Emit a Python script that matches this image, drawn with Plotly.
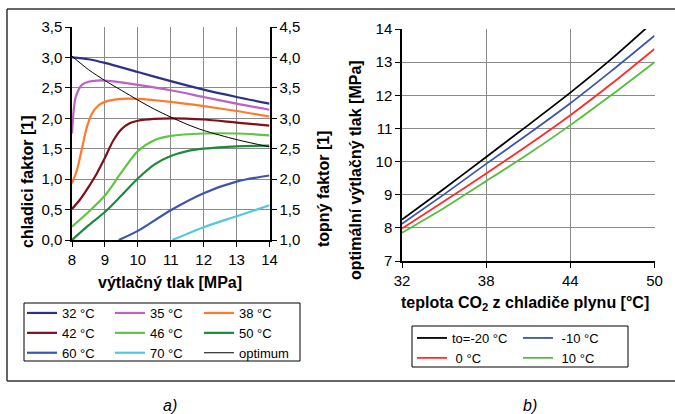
import plotly.graph_objects as go

# ---------------- data: panel a) ----------------
x_32 = [8.0, 8.5, 9.0, 10.0, 11.0, 12.0, 13.0, 14.0]
y_32 = [3.00, 2.97, 2.91, 2.76, 2.61, 2.47, 2.35, 2.24]

x_35 = [8.0, 8.05, 8.1, 8.2, 8.3, 8.5, 8.75, 9.0, 9.5, 10.0, 11.0, 12.0, 13.0, 14.0]
y_35 = [1.75, 2.12, 2.32, 2.47, 2.55, 2.60, 2.62, 2.62, 2.59, 2.55, 2.46, 2.35, 2.24, 2.14]

x_38 = [8.0, 8.15, 8.3, 8.45, 8.6, 8.8, 9.0, 9.5, 10.0, 11.0, 12.0, 13.0, 14.0]
y_38 = [0.93, 1.15, 1.50, 1.85, 2.07, 2.21, 2.27, 2.32, 2.32, 2.27, 2.20, 2.12, 2.03]

x_42 = [8.0, 8.25, 8.5, 8.75, 9.0, 9.25, 9.5, 9.75, 10.0, 10.5, 11.0, 12.0, 13.0, 14.0]
y_42 = [0.51, 0.67, 0.87, 1.09, 1.35, 1.63, 1.82, 1.92, 1.96, 1.99, 2.00, 1.98, 1.93, 1.88]

x_46 = [8.0, 8.5, 9.0, 9.5, 10.0, 10.5, 11.0, 12.0, 13.0, 14.0]
y_46 = [0.22, 0.46, 0.73, 1.11, 1.46, 1.64, 1.71, 1.75, 1.75, 1.72]

x_50 = [8.0, 8.5, 9.0, 9.5, 10.0, 10.5, 11.0, 11.5, 12.0, 13.0, 14.0]
y_50 = [0.00, 0.24, 0.46, 0.73, 1.01, 1.24, 1.38, 1.46, 1.50, 1.54, 1.55]

x_60 = [9.42, 10.0, 11.0, 12.0, 13.0, 14.0]
y_60 = [0.00, 0.15, 0.49, 0.77, 0.96, 1.06]

x_70 = [11.05, 12.0, 13.0, 14.0]
y_70 = [0.00, 0.21, 0.39, 0.57]

x_opt = [8.0, 8.5, 9.0, 9.5, 10.0, 10.5, 11.0, 11.5, 12.0, 13.0, 14.0]
y_opt = [3.02, 2.80, 2.62, 2.46, 2.30, 2.15, 2.02, 1.90, 1.80, 1.65, 1.53]

# heating factor = cooling factor + 1 (right axis of panel a)
y_opt_heat = [v + 1 for v in y_opt]

# ---------------- data: panel b) ----------------
t_gas = [32, 35, 38, 41, 44, 47, 50]
p_m20 = [8.25, 9.18, 10.14, 11.10, 12.08, 13.12, 14.25]
p_m10 = [8.12, 9.01, 9.93, 10.83, 11.76, 12.76, 13.80]
p_0 = [7.98, 8.80, 9.64, 10.50, 11.40, 12.37, 13.40]
p_10 = [7.85, 8.60, 9.41, 10.23, 11.10, 12.03, 13.00]

FONT = "Liberation Sans, Arial, sans-serif"
W, H = 675, 414


def px(x):
    return x / W


def py(y):
    return 1 - y / H


fig = go.Figure()

series_a = [
    ("32 °C", x_32, y_32, "#2E3188", 2.2, "legend"),
    ("42 °C", x_42, y_42, "#7F1018", 2.2, "legend"),
    ("60 °C", x_60, y_60, "#3C55AE", 2.2, "legend"),
    ("35 °C", x_35, y_35, "#BC62C4", 2.2, "legend2"),
    ("46 °C", x_46, y_46, "#62C447", 2.2, "legend2"),
    ("70 °C", x_70, y_70, "#52C8E0", 2.2, "legend2"),
    ("38 °C", x_38, y_38, "#FF7A2A", 2.2, "legend3"),
    ("50 °C", x_50, y_50, "#1E8A3C", 2.2, "legend3"),
    ("optimum", x_opt, y_opt, "#000000", 1.0, "legend3"),
]
for name, xs, ys, col, w, lg in series_a:
    fig.add_trace(go.Scatter(
        x=xs, y=ys, name=name, mode="lines",
        line=dict(color=col, width=w, shape="spline", smoothing=0.8),
        xaxis="x", yaxis="y", legend=lg,
    ))

# same optimum curve expressed as heating factor on the right axis (keeps that axis drawn)
fig.add_trace(go.Scatter(
    x=x_opt, y=y_opt_heat, name="topný faktor", mode="lines",
    line=dict(color="#000000", width=1.0, shape="spline", smoothing=0.8),
    opacity=0, showlegend=False, hoverinfo="skip", xaxis="x", yaxis="y2",
))

series_b = [
    ("to=-20 °C", p_m20, "#000000", "legend4"),
    ("\u00a00 °C", p_0, "#FF2A2A", "legend4"),
    ("\u00a0-10 °C", p_m10, "#3A56B0", "legend5"),
    ("\u00a010 °C", p_10, "#55BE3C", "legend5"),
]
for name, ys, col, lg in series_b:
    fig.add_trace(go.Scatter(
        x=t_gas, y=ys, name=name, mode="lines",
        line=dict(color=col, width=1.8, shape="spline", smoothing=0.6),
        xaxis="x2", yaxis="y3", legend=lg,
    ))

tickfont = dict(family=FONT, size=15, color="#000000")
grid = "#8A8A8A"

common = dict(showgrid=True, gridcolor=grid, gridwidth=1, showline=True,
              linecolor="#000000", ticks="outside", ticklen=5, tickcolor="#000000",
              tickfont=tickfont, zeroline=False, fixedrange=True, automargin=False)

fig.update_layout(
    width=W, height=H,
    margin=dict(l=0, r=0, t=0, b=0, pad=0),
    paper_bgcolor="#FFFFFF", plot_bgcolor="#FFFFFF",
    separators=", ",
    font=dict(family=FONT, size=13, color="#000000"),
    xaxis=dict(domain=[px(72), px(269.5)], range=[8, 14], dtick=1, anchor="y",
               linewidth=1.5, **common),
    yaxis=dict(domain=[py(240), py(27)], range=[0, 3.5], dtick=0.5, tickformat=".1f",
               anchor="x", linewidth=1.5, **common),
    yaxis2=dict(overlaying="y", side="right", anchor="x", range=[1, 4.5], dtick=0.5,
                tickformat=".1f", showgrid=False, showline=True, linecolor="#000000",
                linewidth=2, ticks="outside", ticklen=5, tickcolor="#000000",
                tickfont=tickfont, zeroline=False, fixedrange=True, automargin=False),
    xaxis2=dict(domain=[px(402), px(654.5)], range=[32, 50], tickvals=[32, 38, 44, 50],
                anchor="y3", linewidth=1.5, **common),
    yaxis3=dict(domain=[py(261), py(29)], range=[7, 14], dtick=1, anchor="x2",
                linewidth=1.5, **common),
)

leg_common = dict(bgcolor="rgba(0,0,0,0)", borderwidth=0, orientation="v",
                  xanchor="left", yanchor="top", font=dict(family=FONT, size=13),
                  itemclick=False, itemdoubleclick=False, tracegroupgap=0)
fig.update_layout(
    legend=dict(x=px(22), y=py(298), **leg_common),
    legend2=dict(x=px(110), y=py(298), **leg_common),
    legend3=dict(x=px(199), y=py(298), **leg_common),
    legend4=dict(x=px(412), y=py(323), **leg_common),
    legend5=dict(x=px(518), y=py(323), **leg_common),
)

shapes = [
    # outer frame
    dict(type="line", xref="paper", yref="paper", x0=px(7), x1=px(7), y0=py(9), y1=py(381),
         line=dict(color="#333333", width=1.5)),
    dict(type="line", xref="paper", yref="paper", x0=px(7), x1=1, y0=py(9), y1=py(9),
         line=dict(color="#333333", width=1.5)),
    dict(type="line", xref="paper", yref="paper", x0=px(7), x1=1, y0=py(381), y1=py(381),
         line=dict(color="#333333", width=1.5)),
    # legend boxes
    dict(type="rect", xref="paper", yref="paper", x0=px(24), x1=px(300), y0=py(303), y1=py(361),
         line=dict(color="#000000", width=1)),
    dict(type="rect", xref="paper", yref="paper", x0=px(412), x1=px(628), y0=py(326), y1=py(367),
         line=dict(color="#000000", width=1)),
]
fig.update_layout(shapes=shapes)

tfont = dict(family=FONT, size=16, color="#000000", weight="bold")
ann = [
    dict(text="výtlačný tlak [MPa]", x=px(170), y=py(282), textangle=0),
    dict(text="chladici faktor [1]", x=px(28), y=py(182), textangle=-90),
    dict(text="topný faktor [1]", x=px(323), y=py(189), textangle=-90),
    dict(text="optimální výtlačný tlak [MPa]", x=px(355), y=py(170), textangle=-90),
    dict(text="teplota CO<sub>2</sub> z chladiče plynu [°C]", x=px(525), y=py(303), textangle=0),
]
annotations = []
for a in ann:
    annotations.append(dict(xref="paper", yref="paper", xanchor="center", yanchor="middle",
                            showarrow=False, font=tfont, **a))
for lab, xc in (("a)", 170), ("b)", 530)):
    annotations.append(dict(xref="paper", yref="paper", x=px(xc), y=py(405), text=f"<i>{lab}</i>",
                            showarrow=False, xanchor="center", yanchor="middle",
                            font=dict(family=FONT, size=16, color="#000000")))
fig.update_layout(annotations=annotations)

fig.write_html("out.html", config={"displayModeBar": False},
               post_script="document.body.style.margin='0px';")
